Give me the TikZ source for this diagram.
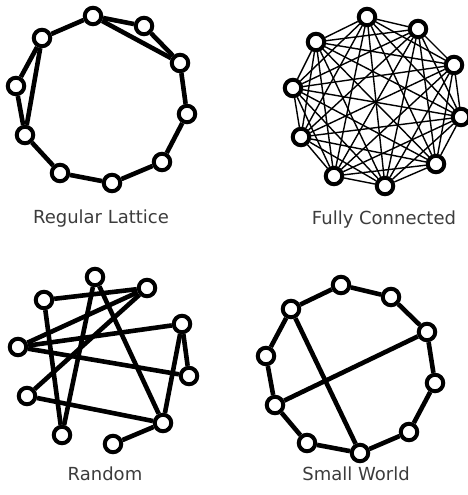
\documentclass[tikz,border=0pt]{standalone}
\usepackage{fontspec}
\setmainfont{DejaVu Sans}
\usetikzlibrary{backgrounds}
\definecolor{labgrey}{RGB}{60,60,60}

\begin{document}
\begin{tikzpicture}[x=1pt,y=-1pt,
  vtx/.style={circle,draw=black,fill=white,line width=4pt,minimum size=16.5pt,inner sep=0pt},
  thick edge/.style={draw=black,line width=4.6pt},
  thin edge/.style={draw=black,line width=1.4pt},
  lab/.style={font=\fontsize{18}{20}\selectfont,text=labgrey,anchor=base,inner sep=0pt}]
\useasboundingbox (0,0) rectangle (468,495);
\node[vtx] (n1) at (93,16) {};
\node[vtx] (n2) at (144,26) {};
\node[vtx] (n3) at (180,63) {};
\node[vtx] (n4) at (187,114) {};
\node[vtx] (n5) at (162,162) {};
\node[vtx] (n6) at (112,183) {};
\node[vtx] (n7) at (60,173) {};
\node[vtx] (n8) at (25,135) {};
\node[vtx] (n9) at (16,86) {};
\node[vtx] (n10) at (42,38) {};
\node[vtx] (f1) at (367,17) {};
\node[vtx] (f2) at (418,29) {};
\node[vtx] (f3) at (454,65) {};
\node[vtx] (f4) at (461,117) {};
\node[vtx] (f5) at (436,164) {};
\node[vtx] (f6) at (385,186) {};
\node[vtx] (f7) at (334,176) {};
\node[vtx] (f8) at (301,137) {};
\node[vtx] (f9) at (293,88) {};
\node[vtx] (f10) at (316,42) {};
\node[vtx] (r1) at (95,277) {};
\node[vtx] (r2) at (147,288) {};
\node[vtx] (r3) at (182,324) {};
\node[vtx] (r4) at (189,376) {};
\node[vtx] (r5) at (163,423) {};
\node[vtx] (r6) at (113,444) {};
\node[vtx] (r7) at (62,435) {};
\node[vtx] (r8) at (27,396) {};
\node[vtx] (r9) at (18,347) {};
\node[vtx] (r10) at (44,300) {};
\node[vtx] (s1) at (341,285) {};
\node[vtx] (s2) at (391,297) {};
\node[vtx] (s3) at (427,332) {};
\node[vtx] (s4) at (435,383) {};
\node[vtx] (s5) at (409,432) {};
\node[vtx] (s6) at (360,453) {};
\node[vtx] (s7) at (307,443) {};
\node[vtx] (s8) at (275,405) {};
\node[vtx] (s9) at (266,356) {};
\node[vtx] (s10) at (291,309) {};
\node[lab] (t1) at (101,223) {Regular Lattice};
\node[lab] (t2) at (384,224) {Fully Connected};
\node[lab] (t3) at (105,480) {Random};
\node[lab] (t4) at (356,480) {Small World};
\begin{scope}[on background layer]
\foreach \a/\b in {n1/n2,n2/n3,n3/n4,n4/n5,n5/n6,n6/n7,n7/n8,n8/n9,n9/n10,n10/n1,n1/n3,n10/n8}
  \draw[thick edge] (\a) -- (\b);
\foreach \i in {1,...,10}
  \foreach \j in {\i,...,10}
    \draw[thin edge] (f\i) -- (f\j);
\foreach \a/\b in {r10/r2,r10/r7,r1/r7,r1/r5,r9/r2,r9/r3,r9/r4,r8/r2,r8/r5,r3/r4,r3/r5,r5/r6}
  \draw[thick edge] (\a) -- (\b);
\foreach \a/\b in {s1/s2,s2/s3,s3/s4,s4/s5,s5/s6,s6/s7,s7/s8,s8/s9,s9/s10,s10/s1,s10/s6,s8/s3}
  \draw[thick edge] (\a) -- (\b);
\end{scope}
\end{tikzpicture}
\end{document}
